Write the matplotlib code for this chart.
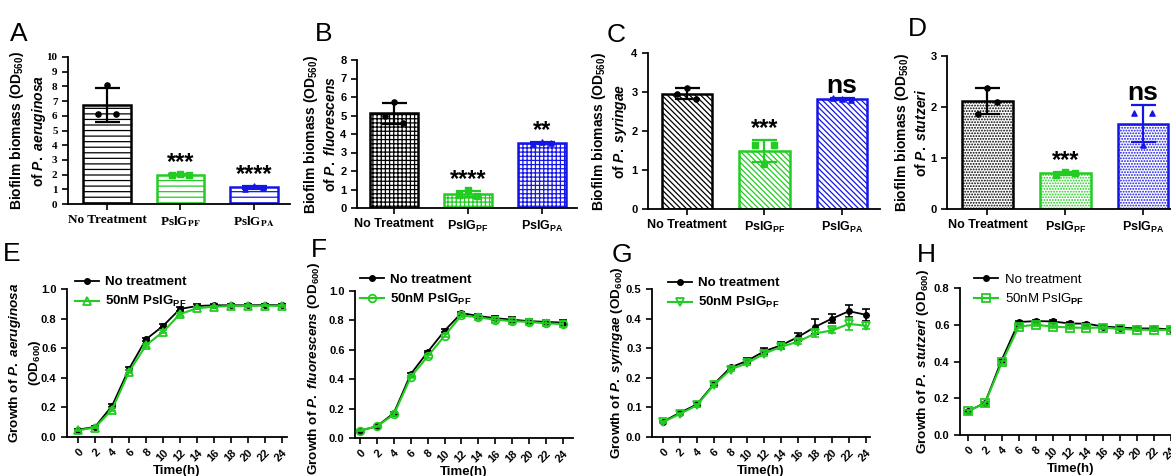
import numpy as np
import matplotlib
matplotlib.use("Agg")
import matplotlib.pyplot as plt

plt.rcParams['font.family'] = ['Liberation Sans', 'DejaVu Sans']
plt.rcParams['font.weight'] = 'bold'
plt.rcParams['axes.labelweight'] = 'bold'
plt.rcParams['mathtext.fontset'] = 'custom'
plt.rcParams['mathtext.rm'] = 'Liberation Sans:bold'
plt.rcParams['mathtext.it'] = 'Liberation Sans:italic:bold'
plt.rcParams['mathtext.bf'] = 'Liberation Sans:bold'

W, H = 1171, 476
BLACK = '#000000'
GREEN = '#22cc22'
BLUE = '#1515e6'

# ---- biofilm data (three replicates per group) ----
groups = ["No Treatment", "PslG$_{\\mathrm{PF}}$", "PslG$_{\\mathrm{PA}}$"]
sig_A = ["", "***", "****"]
sig_B = ["", "****", "**"]
sig_C = ["", "***", "ns"]
sig_D = ["", "***", "ns"]

rep_A = [[6.1, 8.1, 6.1], [1.95, 2.05, 2.0], [1.05, 1.2, 1.12]]
rep_B = [[5.0, 5.75, 4.6], [0.7, 0.95, 0.65], [3.45, 3.55, 3.5]]
rep_C = [[2.95, 3.1, 2.82], [1.65, 1.15, 1.65], [2.85, 2.82, 2.79]]
rep_D = [[1.87, 2.38, 2.1], [0.67, 0.72, 0.7], [1.88, 1.25, 1.88]]

# ---- growth curve data ----
hours = [0, 2, 4, 6, 8, 10, 12, 14, 16, 18, 20, 22, 24]

E_ctrl = [0.05, 0.068, 0.21, 0.46, 0.66, 0.75, 0.865, 0.885, 0.89, 0.89, 0.89, 0.892, 0.89]
E_ctrl_err = [0.005, 0.005, 0.01, 0.01, 0.012, 0.015, 0.015, 0.012, 0.01, 0.008, 0.008, 0.008, 0.008]
E_pf = [0.045, 0.064, 0.185, 0.44, 0.62, 0.71, 0.83, 0.87, 0.88, 0.885, 0.885, 0.888, 0.885]
E_pf_err = [0.005, 0.005, 0.01, 0.01, 0.01, 0.01, 0.01, 0.008, 0.008, 0.006, 0.006, 0.006, 0.006]

F_ctrl = [0.05, 0.08, 0.17, 0.435, 0.585, 0.73, 0.85, 0.83, 0.815, 0.805, 0.795, 0.79, 0.785]
F_ctrl_err = [0.005, 0.005, 0.01, 0.01, 0.01, 0.01, 0.01, 0.015, 0.015, 0.015, 0.015, 0.015, 0.015]
F_pf = [0.05, 0.08, 0.16, 0.415, 0.555, 0.695, 0.835, 0.82, 0.805, 0.795, 0.79, 0.78, 0.775]
F_pf_err = [0.005, 0.005, 0.01, 0.01, 0.01, 0.01, 0.01, 0.02, 0.02, 0.02, 0.02, 0.02, 0.02]

G_ctrl = [0.052, 0.082, 0.11, 0.178, 0.235, 0.258, 0.29, 0.31, 0.338, 0.372, 0.40, 0.425, 0.413]
G_ctrl_err = [0.003, 0.004, 0.005, 0.005, 0.006, 0.008, 0.01, 0.012, 0.012, 0.025, 0.015, 0.02, 0.02]
G_pf = [0.05, 0.078, 0.107, 0.175, 0.228, 0.25, 0.282, 0.305, 0.322, 0.35, 0.36, 0.382, 0.376]
G_pf_err = [0.003, 0.004, 0.005, 0.005, 0.005, 0.006, 0.008, 0.008, 0.008, 0.012, 0.008, 0.02, 0.012]

H_ctrl = [0.13, 0.175, 0.41, 0.615, 0.62, 0.618, 0.607, 0.606, 0.59, 0.585, 0.58, 0.58, 0.575]
H_ctrl_err = [0.006] * 13
H_pf = [0.13, 0.172, 0.395, 0.59, 0.60, 0.59, 0.585, 0.583, 0.585, 0.577, 0.573, 0.572, 0.572]
H_pf_err = [0.008] * 13


def box(l, r, t, b):
    return [l / W, 1 - b / H, (r - l) / W, (b - t) / H]


def style(ax):
    for s in ['top', 'right']:
        ax.spines[s].set_visible(False)
    for s in ['left', 'bottom']:
        ax.spines[s].set_linewidth(1.3)
    ax.tick_params(direction='out', length=4, width=1.2, labelsize=8)


def bar_panel(ax, reps, sigs, ymax, hatch, ylab, xlim, lab_x, serif=False):
    style(ax)
    cols = [BLACK, GREEN, BLUE]
    marks = ['o', 's', '^']
    x = np.arange(3)
    means = [np.mean(r) for r in reps]
    sds = [np.std(r, ddof=1) for r in reps]
    bars = ax.bar(x, means, width=0.65, color='white', edgecolor=cols,
                  linewidth=1.8, hatch=hatch, zorder=2)
    for b in bars:
        try:
            b.set_hatch_linewidth(0.9)
        except AttributeError:
            pass
    for i in range(3):
        ax.errorbar(x[i], means[i], yerr=sds[i], fmt='none', ecolor=cols[i],
                    capsize=9, elinewidth=1.6, capthick=1.6, zorder=3)
        ax.scatter(x[i] + np.array([-0.12, 0, 0.12]), reps[i], s=14,
                   marker=marks[i], color=cols[i], zorder=4)
        if sigs[i]:
            fs = 19 if sigs[i] == 'ns' else 17
            ax.text(x[i], means[i] + sds[i], sigs[i],
                    ha='center', va='bottom', fontsize=fs, fontweight='bold')
    ax.set_ylim(0, ymax)
    ax.set_yticks(np.arange(0, ymax + 1, 1))
    ax.set_xlim(*xlim)
    ax.set_xticks(x)
    ax.set_xticklabels(groups, fontsize=9)
    ax.set_ylabel(ylab, fontsize=10, linespacing=1.3)
    ax.yaxis.set_label_coords(lab_x, 0.5)
    if serif:
        for t in ax.get_xticklabels() + ax.get_yticklabels():
            t.set_fontfamily('Liberation Serif')
            t.set_math_fontfamily('stix')
        for t in ax.get_yticklabels():
            t.set_fontsize(8)
        for t in ax.get_xticklabels():
            t.set_fontsize(9.5)


def growth_panel(ax, ctrl, ctrl_err, pf, pf_err, mk, ymax, ystep, ylab, xlim,
                 lab_x, leg_xy, leg_bold=True, lab_y=0.5):
    style(ax)
    ax.errorbar(hours, ctrl, yerr=ctrl_err, fmt='none', ecolor=BLACK,
                capsize=3, elinewidth=1.2, capthick=1.2, zorder=3)
    ax.plot(hours, ctrl, color=BLACK, marker='o', ms=4, lw=1.3,
            label='No treatment', zorder=3)
    ax.errorbar(hours, pf, yerr=pf_err, fmt='none', ecolor=GREEN,
                capsize=3, elinewidth=1.2, capthick=1.2, zorder=4)
    ax.plot(hours, pf, color=GREEN, marker=mk, ms=5.5, mfc='none', mec=GREEN,
            mew=1.3, lw=1.5, label='50nM PslG$_{\\mathrm{PF}}$', zorder=4)
    ax.set_ylim(0, ymax)
    ax.set_yticks(np.arange(0, ymax + ystep / 2, ystep))
    ax.yaxis.set_major_formatter(matplotlib.ticker.FormatStrFormatter('%.1f'))
    ax.set_xlim(*xlim)
    ax.set_xticks(hours)
    ax.set_xticklabels([str(h) for h in hours], rotation=45, ha='right',
                       rotation_mode='anchor', fontsize=8)
    ax.set_xlabel('Time(h)', fontsize=9.5, labelpad=1)
    ax.set_ylabel(ylab, fontsize=9.7, linespacing=1.3)
    ax.yaxis.set_label_coords(lab_x, lab_y)
    wt = 'bold' if leg_bold else 'normal'
    leg = ax.legend(loc='upper left', bbox_to_anchor=leg_xy, frameon=False,
                    borderpad=0, borderaxespad=0, handlelength=1.8,
                    handletextpad=0.5, labelspacing=0.45,
                    prop={'size': 9.5, 'weight': wt})
    for t in leg.get_texts():
        t.set_fontweight(wt)


fig = plt.figure(figsize=(W / 100, H / 100), dpi=100)

axA = fig.add_axes(box(68, 290, 57, 204))
bar_panel(axA, rep_A, sig_A, 10, '---',
          "Biofilm biomass (OD$_{560}$)\nof $P.\\ aeruginosa$",
          (-0.53, 2.49), -0.09, serif=True)

axB = fig.add_axes(box(357, 577, 60, 208))
bar_panel(axB, rep_B, sig_B, 8, '++++',
          "Biofilm biomass (OD$_{560}$)\nof $P.\\ fluorescens$",
          (-0.5, 2.47), -0.085)

axC = fig.add_axes(box(648, 880, 53, 209))
bar_panel(axC, rep_C, sig_C, 4, '\\\\\\\\\\\\',
          "Biofilm biomass (OD$_{560}$)\nof $P.\\ syringae$",
          (-0.5, 2.49), -0.08)

axD = fig.add_axes(box(947, 1182, 56, 209))
bar_panel(axD, rep_D, sig_D, 3, '......',
          "Biofilm biomass (OD$_{560}$)\nof $P.\\ stutzeri$",
          (-0.52, 2.5), -0.075)

axE = fig.add_axes(box(67, 287, 289, 437))
growth_panel(axE, E_ctrl, E_ctrl_err, E_pf, E_pf_err, '^', 1.0, 0.2,
             "Growth of $P.\\ aeruginosa$\n(OD$_{600}$)", (-1.3, 24.6), -0.11,
             (0.036, 1.088))

axF = fig.add_axes(box(355, 573, 291, 438))
growth_panel(axF, F_ctrl, F_ctrl_err, F_pf, F_pf_err, 'o', 1.0, 0.2,
             "Growth of $P.\\ fluorescens$ (OD$_{600}$)", (-0.6, 25.2), -0.15,
             (0.023, 1.12), lab_y=0.47)

axG = fig.add_axes(box(652, 870, 289, 437))
growth_panel(axG, G_ctrl, G_ctrl_err, G_pf, G_pf_err, 'v', 0.5, 0.1,
             "Growth of $P.\\ syringae$ (OD$_{600}$)", (-1.3, 24.5), -0.125,
             (0.073, 1.08))

axH = fig.add_axes(box(960, 1182, 288, 435))
growth_panel(axH, H_ctrl, H_ctrl_err, H_pf, H_pf_err, 's', 0.8, 0.2,
             "Growth of $P.\\ stutzeri$ (OD$_{600}$)", (-0.95, 25.3), -0.13,
             (0.065, 1.10), leg_bold=False)

# panel letters
for letter, px, py in [('A', 10, 41), ('B', 315, 41), ('C', 607, 42), ('D', 908, 36),
                       ('E', 3, 261), ('F', 311, 257), ('G', 612, 262), ('H', 917, 262)]:
    fig.text(px / W, 1 - py / H, letter, fontsize=19, fontweight='normal',
             va='baseline', ha='left')

fig.savefig('out.png', dpi=100)
